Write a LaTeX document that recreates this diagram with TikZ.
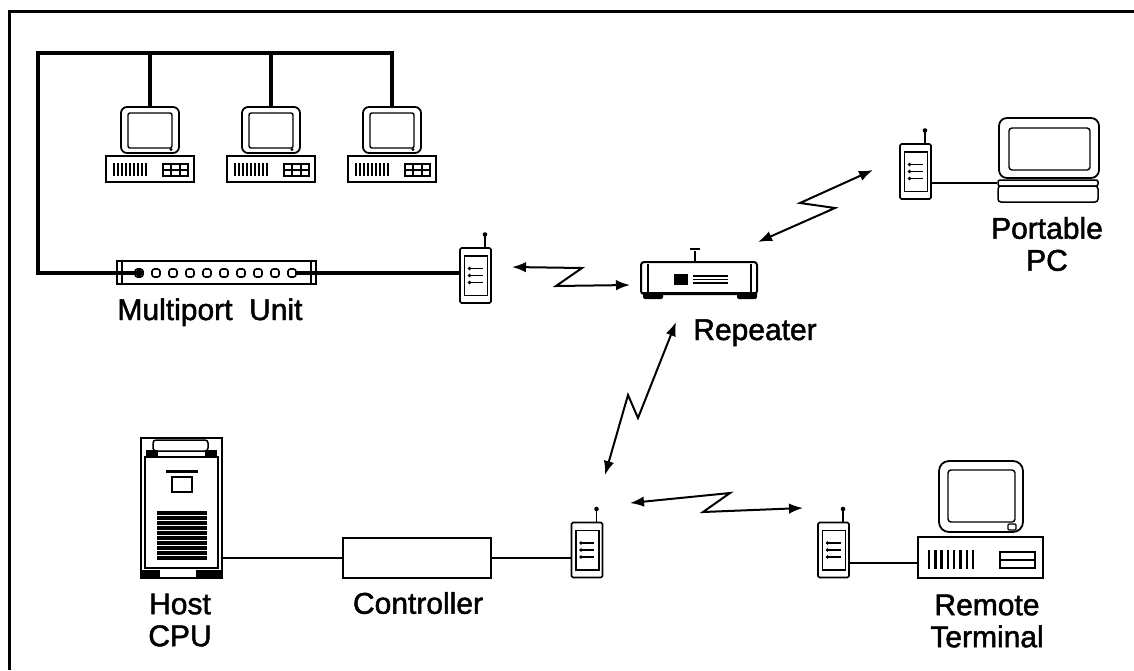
\documentclass[tikz,border=0pt]{standalone}
\usepackage{fontspec}
\setmainfont{Liberation Sans}[FakeBold=1.6]
\usetikzlibrary{calc,arrows.meta}

\tikzset{
  frameline/.style={line width=3pt},
  bus/.style={line width=3.4pt},
  thinline/.style={line width=1.5pt},
  radiolink/.style={line width=2pt, line join=miter,
    {Latex[length=14pt,width=10.5pt]}-{Latex[length=14pt,width=10.5pt]}},
  lbl/.style={font=\fontsize{30}{32}\selectfont, align=center, inner sep=0pt},
  port/.style={draw, line width=1.6pt, rounded corners=2.5pt, minimum size=8pt, inner sep=0pt},
  % hand-held radio transceiver
  radio/.pic={
    \node[draw, line width=1.6pt, rounded corners=1.5pt, minimum width=31pt,
          minimum height=55pt, inner sep=0pt] (-body) at (0,0) {};
    \draw[line width=1.3pt] (-11,-19.5) rectangle (12,20);
    \draw[line width=1.3pt] (9.5,-27.5) -- (9.5,-41);
    \fill (9.5,-41) circle (2.3pt);
    \foreach \ly in {-7,0,7} {
      \draw[line width=1.4pt] (-6,\ly) -- (7,\ly);
      \fill (-6,\ly) circle (1.9pt);
    }
  },
  % desktop workstation: monitor on a system unit
  desktop/.pic={
    \node[draw, line width=1.8pt, rounded corners=6pt, minimum width=58pt,
          minimum height=46pt, inner sep=0pt] (-mon) at (0,-26) {};
    \draw[line width=1.4pt, rounded corners=2pt] (-22,-43) rectangle (22,-8);
    \fill (21,-6.5) circle (1.7pt);
    \node[draw, line width=1.8pt, minimum width=88pt, minimum height=26pt,
          inner sep=0pt] (-base) at (0,13) {};
    \foreach \vx in {-36,-32,...,-4} \draw[line width=1.8pt] (\vx,7) -- (\vx,20);
    \draw[line width=1.5pt] (13,8) rectangle (38,20);
    \draw[line width=1.2pt] (13,14) -- (38,14) (21,8) -- (21,20) (30,8) -- (30,20);
  },
  % repeater station
  repeater/.pic={
    \node[draw, line width=2pt, rounded corners=3pt, minimum width=116pt,
          minimum height=32pt, inner sep=0pt] (-body) at (0,0) {};
    \draw[line width=1.3pt] (-51,-14) -- (-51,14) (52,-14) -- (52,14);
    \fill (-25,-4) rectangle (-11,7);
    \foreach \ly in {-2,1.5,5} \draw[line width=1.2pt] (-6,\ly) -- (29,\ly);
    \fill[rounded corners=2pt] (-56,14) rectangle (-36,21);
    \fill[rounded corners=2pt] (38,14) rectangle (58,21);
    \fill (-56,14) rectangle (58,17);
    \draw[line width=1.4pt] (-4,-16) -- (-4,-27);
    \draw[line width=2pt] (-9,-29) -- (1,-29);
  }
}

\begin{document}
\begin{tikzpicture}[x=1pt,y=-1pt]
\useasboundingbox (0,0) rectangle (1134,670);

% frame
\draw[frameline] (9,670) -- (9,11) -- (1134,11);

% ---------------- wired segment ----------------
\pic (d1) at (150,156) {desktop};
\pic (d2) at (271,156) {desktop};
\pic (d3) at (392,156) {desktop};

\node[draw, line width=1.8pt, minimum width=199pt, minimum height=23pt, inner sep=0pt]
  (mpu) at (216.5,272.5) {};
\draw[line width=1.3pt] (122,262) -- (122,283) (311,262) -- (311,283);
\foreach \i in {1,...,10}
  \node[port] (p\i) at ({139+(\i-1)*17},273) {};
\fill (p1) circle (3.5pt);

\coordinate (busL) at (38,53);
\draw[bus] (p1.west) -| (busL) -| (d3-mon.north);
\draw[bus] (d1-mon.north) -- (d1-mon.north |- busL);
\draw[bus] (d2-mon.north) -- (d2-mon.north |- busL);

\pic (t1) at (475.5,275.5) {radio};
\draw[bus] (p10.east) -- (p10.east -| t1-body.west);

\node[lbl, anchor=base] (lmpu) at (210,320) {Multiport\ \ Unit};

% ---------------- repeater ----------------
\pic (rp) at (699,278) {repeater};
\node[lbl, anchor=base] (lrep) at (755,340) {Repeater};

% ---------------- portable PC ----------------
\pic (t2) at (915.5,171.5) {radio};
\node[draw, line width=1.8pt, rounded corners=8pt, minimum width=100pt,
      minimum height=60pt, inner sep=0pt] (lapscr) at (1049,148) {};
\draw[line width=1.4pt, rounded corners=3pt] (1009,128) rectangle (1090,170);
\node[draw, line width=1.5pt, rounded corners=2pt, minimum width=100pt,
      minimum height=6pt, inner sep=0pt] (laphinge) at (1048,183) {};
\node[draw, line width=1.5pt, rounded corners=3pt, minimum width=100pt,
      minimum height=16pt, inner sep=0pt] (lapbase) at (1048,194) {};
\draw[thinline] (t2-body.east |- laphinge.west) -- (laphinge.west);
\node[lbl] (lpc) at (1047,244) {Portable\\PC};

% ---------------- host side ----------------
\node[draw, line width=2.2pt, minimum width=81pt, minimum height=140pt, inner sep=0pt]
  (host) at (181.5,508) {};
\begin{scope}[shift={(host.center)}]
  \draw[line width=1.5pt, rounded corners=3pt] (-28.5,-68) rectangle (26.5,-57);
  \fill (-35.5,-58) rectangle (-23.5,-51);
  \fill (23.5,-58) rectangle (35.5,-51);
  \draw[line width=1.4pt] (-36.5,-51) rectangle (36.5,60);
  \fill (-16,-38.5) rectangle (16,-35.5);
  \draw[line width=1.4pt] (-9.5,-31) rectangle (10.5,-16);
  \foreach \k in {0,...,9} \fill (-24.5,{3+\k*5}) rectangle (25.5,{6.5+\k*5});
  \fill (-40.5,62) rectangle (-22,70);
  \fill (14,62) rectangle (40.5,70);
\end{scope}
\node[lbl] (lhost) at (180,620) {Host\\CPU};

\node[draw, line width=1.5pt, minimum width=148pt, minimum height=40pt, inner sep=0pt]
  (ctrl) at (417,558) {};
\node[lbl] (lctrl) at (418,603) {Controller};

\pic (t3) at (587,550) {radio};
\draw[thinline] (host.east |- ctrl.west) -- (ctrl.west);
\draw[thinline] (ctrl.east) -- (ctrl.east -| t3-body.west);

% ---------------- remote terminal ----------------
\pic (t4) at (833.5,550) {radio};
\node[draw, line width=1.8pt, rounded corners=10pt, minimum width=84pt,
      minimum height=71pt, inner sep=0pt] (tmon) at (981,496.5) {};
\draw[line width=1.4pt, rounded corners=3pt] (948,470) rectangle (1015,522);
\draw[line width=1.2pt, rounded corners=1pt] (1008,524) rectangle (1016,530);
\node[draw, line width=2pt, minimum width=125pt, minimum height=41pt, inner sep=0pt]
  (tbase) at (980.5,557.5) {};
\foreach \vx in {929,935.3,...,974} \draw[line width=2.4pt] (\vx,550) -- (\vx,569);
\draw[line width=1.4pt] (1000,552) rectangle (1035,568);
\draw[line width=1.2pt] (1000,560) -- (1035,560);
\coordinate (tin) at ($(tbase.west)+(0,5.5)$);
\draw[thinline] (t4-body.east |- tin) -- (tin);
\node[lbl] (lterm) at (987,621) {Remote\\Terminal};

% ---------------- radio links ----------------
\coordinate (w1a) at (512,267);
\coordinate (w1b) at (582,268);
\coordinate (w1c) at (556,286);
\coordinate (w1d) at (630,285);
\draw[radiolink] (w1a) -- (w1b) -- (w1c) -- (w1d);

\coordinate (w2a) at (758,242);
\coordinate (w2b) at (835,208);
\coordinate (w2c) at (800,203);
\coordinate (w2d) at (873,170);
\draw[radiolink] (w2a) -- (w2b) -- (w2c) -- (w2d);

\coordinate (w3a) at (676,322);
\coordinate (w3b) at (638,418);
\coordinate (w3c) at (628,395);
\coordinate (w3d) at (605,475);
\draw[radiolink] (w3a) -- (w3b) -- (w3c) -- (w3d);

\coordinate (w4a) at (630,503);
\coordinate (w4b) at (730,493);
\coordinate (w4c) at (703,512);
\coordinate (w4d) at (803,508);
\draw[radiolink] (w4a) -- (w4b) -- (w4c) -- (w4d);
\end{tikzpicture}
\end{document}
